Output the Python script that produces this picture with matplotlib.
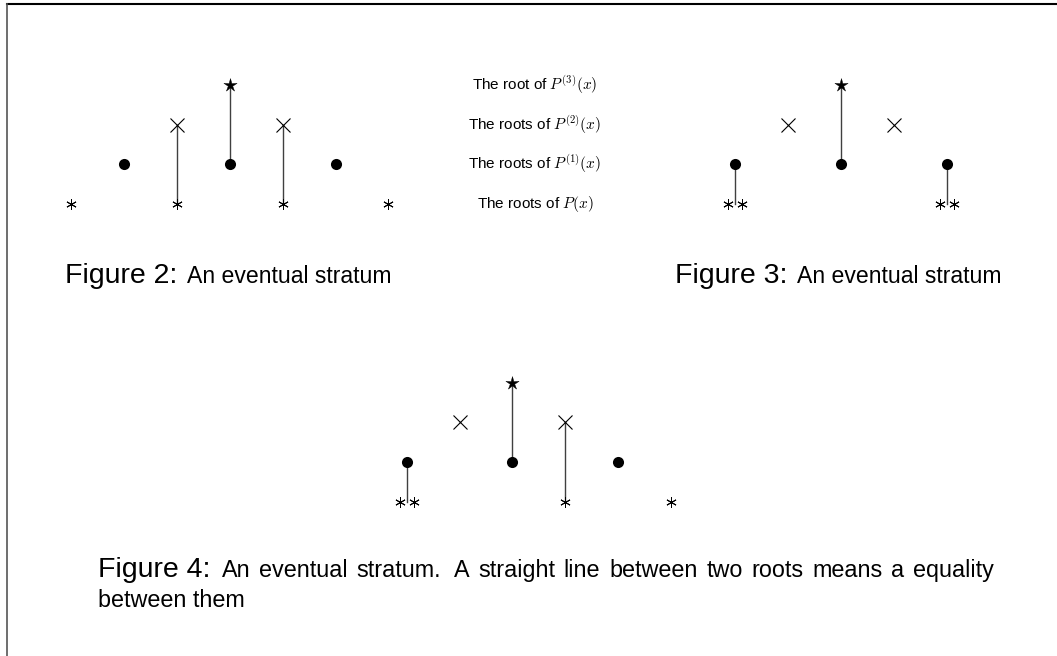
import matplotlib
matplotlib.use("Agg")
import matplotlib.pyplot as plt
from matplotlib.path import Path
from matplotlib.transforms import offset_copy
import numpy as np

plt.rcParams['font.family'] = ['Liberation Sans', 'DejaVu Sans']
plt.rcParams['mathtext.fontset'] = 'cm'

# level names (top to bottom on the picture)
level_labels = ["The root of $P^{(3)}(x)$", "The roots of $P^{(2)}(x)$",
                "The roots of $P^{(1)}(x)$", "The roots of $P(x)$"]

# roots per level: position index along the line, multiplicity for P(x)
# Figure 2
fig2_p = [0, 2, 4, 6]
fig2_p_mult = [1, 1, 1, 1]
fig2_p1 = [1, 3, 5]
fig2_p2 = [2, 4]
fig2_p3 = [3]
fig2_links = [(2, 0, 2), (4, 0, 2), (3, 1, 3)]   # (position, from level, to level)

# Figure 3
fig3_p = [1, 5]
fig3_p_mult = [2, 2]
fig3_p1 = [1, 3, 5]
fig3_p2 = [2, 4]
fig3_p3 = [3]
fig3_links = [(1, 0, 1), (3, 1, 3), (5, 0, 1)]

# Figure 4
fig4_p = [1, 4, 6]
fig4_p_mult = [2, 1, 1]
fig4_p1 = [1, 3, 5]
fig4_p2 = [2, 4]
fig4_p3 = [3]
fig4_links = [(1, 0, 1), (3, 1, 3), (4, 0, 2)]

captions = ["An eventual stratum", "An eventual stratum",
            "An eventual stratum.  A straight line between two roots means a equality\nbetween them"]

fig = plt.figure(figsize=(10.57, 6.56), dpi=100)
ax = fig.add_axes([0, 0, 1, 1])
ax.set_xlim(0, 1057)
ax.set_ylim(656, 0)
ax.axis('off')

# thin TeX-like star
ang = np.pi / 2 + np.arange(10) * np.pi / 5
rad = np.where(np.arange(10) % 2 == 0, 1.0, 0.34)
star = Path(np.column_stack([rad * np.cos(ang), rad * np.sin(ang)]).tolist() + [[0, 1]],
            [Path.MOVETO] + [Path.LINETO] * 9 + [Path.CLOSEPOLY])

UNIT = 52.9
STEP = 39.7
styles = [
    dict(marker=(6, 2, 0), ms=7.5, mew=0.7),
    dict(marker='o', ms=8, mew=0),
    dict(marker='x', ms=9.5, mew=0.8),
    dict(marker=star, ms=10, mew=0.3),
]


def stratum(x0, y0, p, p_mult, p1, p2, p3, links):
    X = lambda i: x0 + i * UNIT
    Y = lambda lev: y0 - lev * STEP
    for pos, a, b in links:
        ax.plot([X(pos), X(pos)], [Y(a), Y(b)], color='#404040', lw=1.0, zorder=1)
    for pos, m in zip(p, p_mult):
        if m == 1:
            ax.plot(X(pos), Y(0), color='black', ls='none', zorder=3, **styles[0])
        else:
            for d in (-5, 5):
                tr = offset_copy(ax.transData, fig=fig, x=d, y=0, units='points')
                ax.plot(X(pos), Y(0), color='black', ls='none', zorder=3,
                        transform=tr, **styles[0])
    for lev, roots in ((1, p1), (2, p2), (3, p3)):
        ax.plot([X(r) for r in roots], [Y(lev)] * len(roots), color='black',
                ls='none', zorder=3, **styles[lev])


stratum(71, 204, fig2_p, fig2_p_mult, fig2_p1, fig2_p2, fig2_p3, fig2_links)
stratum(682.3, 204, fig3_p, fig3_p_mult, fig3_p1, fig3_p2, fig3_p3, fig3_links)
stratum(353.7, 501.7, fig4_p, fig4_p_mult, fig4_p1, fig4_p2, fig4_p3, fig4_links)

# level labels in the middle
for k, lab in enumerate(level_labels):
    ax.text(535, 204 - (3 - k) * STEP, lab, ha='center', va='center', fontsize=11)

renderer = fig.canvas.get_renderer()


def justified(x_start, x_end, y, line, size):
    # place words so that the line fills x_start..x_end like LaTeX does
    words = line.split()
    texts = [ax.text(0, y, w, fontsize=size, va='baseline') for w in words]
    widths = [t.get_window_extent(renderer).width for t in texts]
    weights = [1.4 if w.endswith('.') else 1.0 for w in words[:-1]]
    gap = (x_end - x_start - sum(widths)) / sum(weights)
    x = x_start
    for t, w, k in zip(texts, widths, weights + [0]):
        t.set_x(x)
        x += w + gap * k


# captions
ax.text(65, 283, "Figure 2:", fontsize=20.5, va='baseline')
ax.text(187, 283, captions[0], fontsize=16.6, va='baseline')
ax.text(675, 283, "Figure 3:", fontsize=20.5, va='baseline')
ax.text(797, 283, captions[1], fontsize=16.6, va='baseline')
ax.text(98, 577, "Figure 4:", fontsize=20.5, va='baseline')
first, second = captions[2].split('\n')
justified(222, 994, 577, first, 16.8)
ax.text(98, 607, second, fontsize=16.8, va='baseline')

# page frame
ax.plot([6.5, 1057], [3.5, 3.5], color='black', lw=1.5)
ax.plot([6.5, 6.5], [3.5, 656], color='#555555', lw=1.2)

fig.savefig("out.png", dpi=100)
